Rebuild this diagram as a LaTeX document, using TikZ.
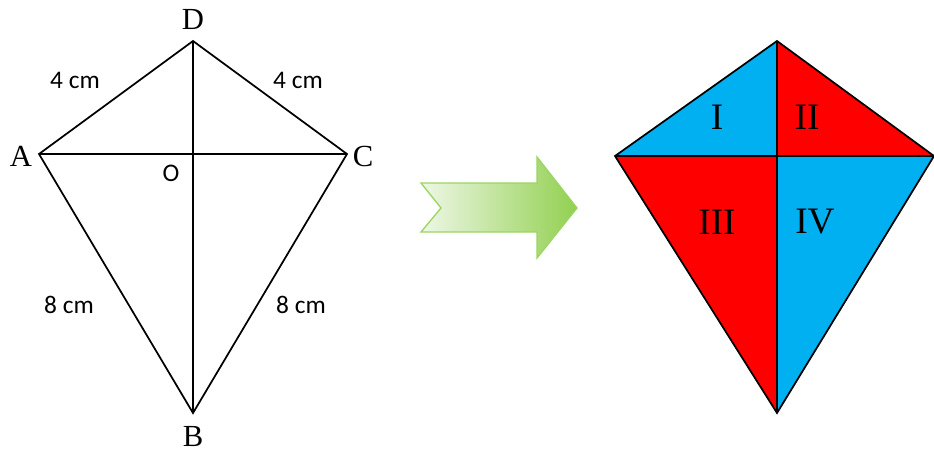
\documentclass[tikz,border=0pt]{standalone}
\usepackage{fontspec}
\setmainfont{Liberation Serif}
\newfontfamily\calib{Carlito}
\usepackage{tikz}
\usetikzlibrary{positioning}
\definecolor{kblue}{HTML}{00B0F0}
\definecolor{kred}{HTML}{FF0000}
\definecolor{gpale}{HTML}{EEF7E6}
\definecolor{gdeep}{HTML}{92D050}
\definecolor{gedge}{HTML}{9BD562}
\tikzset{
  edge/.style={line width=1.3pt,line join=miter},
  vlab/.style={inner sep=0pt,font=\fontsize{23}{25}\selectfont},
  qlab/.style={inner sep=0pt,font=\fontsize{28}{30}\selectfont},
  cmlab/.style={inner sep=0pt,font=\calib\fontsize{19}{21}\selectfont}
}

\begin{document}
\begin{tikzpicture}[x=0.75pt,y=-0.75pt]
  \useasboundingbox (0,0) rectangle (934,451);
  % plain kite
  \coordinate (D) at (193,41);
  \coordinate (A) at (39,154);
  \coordinate (C) at (347,154);
  \coordinate (B) at (193,413);
  \coordinate (O) at (193,154);
  \draw[edge] (A) -- (D) -- (C) -- (B) -- cycle;
  \draw[edge] (A) -- (C) (D) -- (B);
  \node[vlab] (lD) at (193,19) {D};
  \node[vlab] (lA) at (21,156) {A};
  \node[vlab] (lC) at (363,156) {C};
  \node[vlab] (lB) at (193,436) {B};
  \node[cmlab] (lO) at (171,173) {O};
  \foreach \txt/\px/\py [count=\i] in {4 cm/75/80, 4 cm/298/80, 8 cm/69/305, 8 cm/301/305}
    \node[cmlab] (cm\i) at (\px,\py) {\txt};
  % arrow
  \shade[left color=gpale,right color=gdeep,draw=gedge,line width=1pt,line join=miter]
    (421,183) -- (537,183) -- (537,157) -- (577,208) -- (537,258) -- (537,232)
    -- (421,232) -- (441,208) -- cycle;
  % coloured kite
  \coordinate (T) at (777,41);
  \coordinate (L) at (615,156);
  \coordinate (R) at (934,156);
  \coordinate (Bt) at (777,413);
  \coordinate (M) at (777,156);
  \fill[kblue] (T) -- (L) -- (M) -- cycle;
  \fill[kred] (T) -- (R) -- (M) -- cycle;
  \fill[kred] (L) -- (Bt) -- (M) -- cycle;
  \fill[kblue] (R) -- (Bt) -- (M) -- cycle;
  \draw[edge] (L) -- (T) -- (R) -- (Bt) -- cycle;
  \draw[edge] (L) -- (R) (T) -- (Bt);
  \foreach \txt/\px/\py [count=\i] in {I/717/117, II/807/117, III/717/222, IV/815/222}
    \node[qlab] (q\i) at (\px,\py) {\txt};
\end{tikzpicture}
\end{document}
